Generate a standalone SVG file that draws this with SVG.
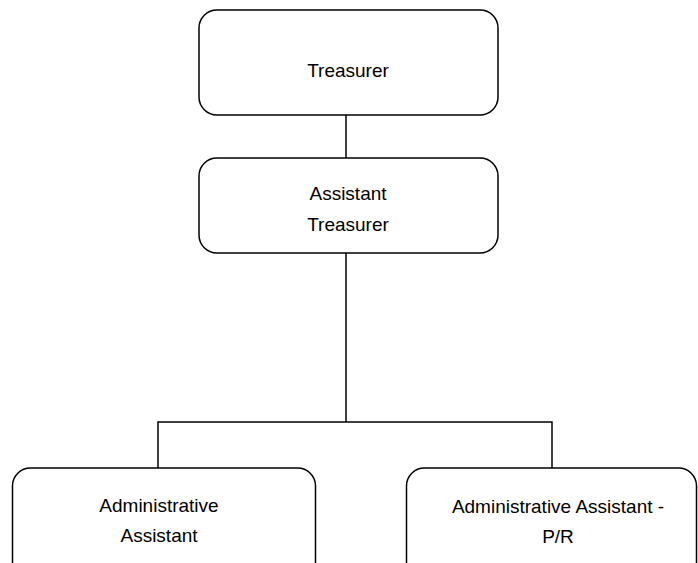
<svg xmlns="http://www.w3.org/2000/svg" width="698" height="563" viewBox="0 0 698 563">
<style>
.box{fill:#fff;stroke:#000;stroke-width:1.5}
.lbl{font-family:"Liberation Sans",Arial,sans-serif;font-size:19px;fill:#000;text-anchor:middle}
.conn{fill:none;stroke:#000;stroke-width:1.5}
</style>
<rect width="698" height="563" fill="#fff"/>
<g id="connectors">
<line class="conn" x1="346" y1="115" x2="346" y2="158"/>
<line class="conn" x1="346" y1="253" x2="346" y2="422"/>
<polyline class="conn" points="158,468 158,422 552,422 552,468"/>
</g>
<g id="treasurer">
<rect class="box" x="199" y="10" width="299" height="105" rx="18"/>
<text class="lbl" x="348" y="77">Treasurer</text>
</g>
<g id="assistant-treasurer">
<rect class="box" x="199" y="158" width="299" height="95" rx="18"/>
<text class="lbl" x="348" y="200">Assistant</text>
<text class="lbl" x="348" y="231">Treasurer</text>
</g>
<g id="administrative-assistant">
<rect class="box" x="12.5" y="468" width="303" height="120" rx="18"/>
<text class="lbl" x="159" y="512">Administrative</text>
<text class="lbl" x="159" y="542">Assistant</text>
</g>
<g id="administrative-assistant-pr">
<rect class="box" x="406.5" y="468" width="290" height="120" rx="18"/>
<text class="lbl" x="558" y="513">Administrative Assistant -</text>
<text class="lbl" x="558" y="543">P/R</text>
</g>
</svg>
